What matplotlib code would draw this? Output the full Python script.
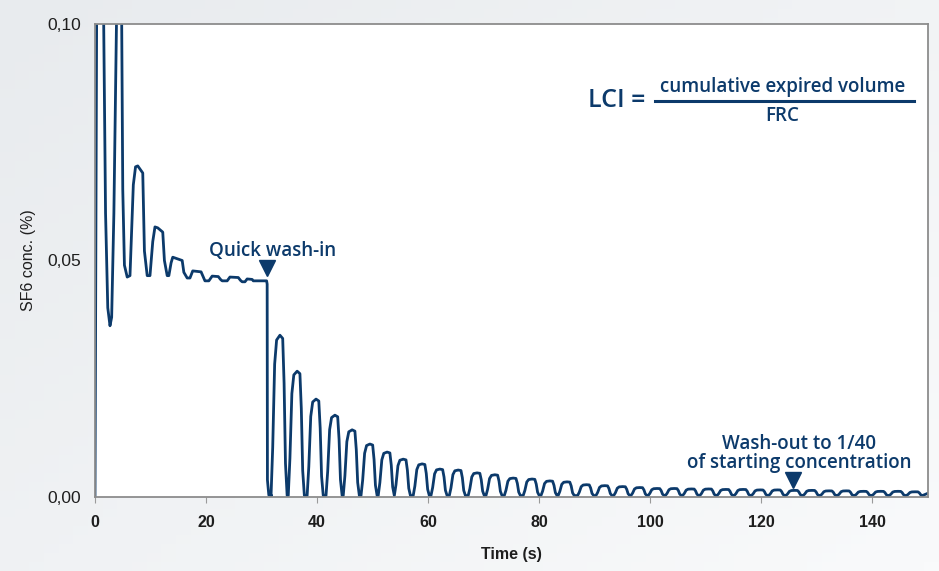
import numpy as np
import matplotlib
matplotlib.use("Agg")
import matplotlib.pyplot as plt

# ---------------- data ----------------
# wash-in phase: explicit trace knots (time s, SF6 %)
washin_t = [0.0, 0.35, 1.4, 1.9, 2.3, 2.7, 3.0, 3.4, 4.1, 4.7, 5.0, 5.3, 5.8, 6.3,
            6.9, 7.3, 7.7, 8.6, 8.9, 9.4, 9.9, 10.4, 10.8, 11.3, 12.2, 12.5, 13.0, 13.3,
            13.7, 14.0, 15.7, 16.0, 16.6, 17.1, 17.6, 19.1, 19.5, 19.8, 20.5, 20.8, 21.1,
            22.2, 22.6, 22.9, 23.8, 24.1, 24.3, 25.8, 26.2, 26.5, 27.0, 27.4, 28.3, 28.5,
            30.9, 31.0, 31.05, 31.3, 31.8]
washin_c = [0.0, 0.120, 0.120, 0.060, 0.040, 0.0362, 0.038, 0.060, 0.120, 0.120, 0.065, 0.049, 0.0465, 0.0468,
            0.066, 0.0698, 0.0700, 0.0685, 0.052, 0.0468, 0.0468, 0.054, 0.0571, 0.0569, 0.0560, 0.050, 0.0468, 0.0468,
            0.0495, 0.0507, 0.0500, 0.0475, 0.0463, 0.0463, 0.0478, 0.0476, 0.0465, 0.0457, 0.0457, 0.0462, 0.0467,
            0.0466, 0.0460, 0.0457, 0.0457, 0.0462, 0.0465, 0.0464, 0.0458, 0.0455, 0.0455, 0.0461, 0.0460, 0.0457,
            0.0457, 0.0450, 0.0036, 0.0004, 0.0003]

# wash-out phase: breath-by-breath end-tidal plateau (centre time s, SF6 %)
washout_peak_t = [33.3, 36.4, 39.8, 43.2, 46.3, 49.5, 52.6, 55.5, 58.9, 62.1, 65.4,
                  68.8, 72.0, 75.3, 78.7, 81.9, 85.0, 88.5, 91.8, 95.0, 98.1, 101.2,
                  104.3, 107.4, 110.5, 113.6, 116.7, 119.8, 122.9, 126.0, 129.1,
                  132.2, 135.3, 138.4, 141.5, 144.6, 147.7]
washout_peak_c = [0.0342, 0.0266, 0.0207, 0.0173, 0.0142, 0.0112, 0.0095, 0.0080, 0.0070, 0.0059, 0.0057,
                  0.0051, 0.0047, 0.0040, 0.0038, 0.0034, 0.0032, 0.0026, 0.0024, 0.0022, 0.0020, 0.0018,
                  0.0018, 0.0017, 0.0017, 0.0016, 0.0016, 0.0015, 0.0015, 0.0014, 0.0014,
                  0.0013, 0.0013, 0.0012, 0.0012, 0.0012, 0.0011]
washout_trough_c = 0.0003
# breath waveform shape (time offsets from plateau centre, fraction of plateau)
breath_dt = [-1.6, -1.3, -0.95, -0.6, 0.0, 0.5, 0.75, 1.0, 1.3]
breath_fr = [0.0, 0.3, 0.82, 0.97, 1.0, 0.98, 0.7, 0.2, 0.0]

x_ticks = [0, 20, 40, 60, 80, 100, 120, 140]
y_ticks = [0.0, 0.05, 0.10]
y_ticklabels = ["0,00", "0,05", "0,10"]

NAVY = "#0c3a6b"

# ---------------- build trace ----------------
t_all = list(washin_t)
c_all = list(washin_c)
for tc, v in zip(washout_peak_t, washout_peak_c):
    for dt, fr in zip(breath_dt, breath_fr):
        t_all.append(tc + dt)
        c_all.append(washout_trough_c + fr * (v - washout_trough_c))
t_all.append(150.0)
c_all.append(0.0008)

# ---------------- figure ----------------
fig = plt.figure(figsize=(9.39, 5.71), dpi=100)
bg = fig.add_axes([0, 0, 1, 1], zorder=-10)
gx, gy = np.meshgrid(np.linspace(0, 1, 64), np.linspace(0, 1, 64))
grad = 0.55 * gx + 0.45 * gy
bg.imshow(grad, cmap=matplotlib.colors.LinearSegmentedColormap.from_list(
    "g", ["#e8ebee", "#f9fafb"]), aspect="auto", extent=[0, 1, 0, 1], origin="upper")
bg.set_axis_off()

ax = fig.add_axes([95 / 939, 1 - 497 / 571, (928 - 95) / 939, (497 - 24) / 571])
ax.set_facecolor("white")
ax.plot(t_all, c_all, color=NAVY, lw=2.0, solid_joinstyle="round", solid_capstyle="round")
ax.set_xlim(0, 150)
ax.set_ylim(0, 0.10)

for s in ax.spines.values():
    s.set_color("#8c8c8c")
    s.set_linewidth(1.3)

ax.set_xticks(x_ticks)
ax.set_xticklabels([str(v) for v in x_ticks], fontsize=11.5, fontweight="bold",
                   color="#1e1e1e", family="Liberation Sans")
ax.set_yticks(y_ticks)
ax.set_yticklabels(y_ticklabels, fontsize=12.5, color="#1e1e1e", family="Liberation Sans")
ax.tick_params(axis="x", length=4, color="#9a9a9a", pad=9)
ax.tick_params(axis="y", length=0, pad=10)

ax.set_xlabel("Time (s)", fontsize=11.5, fontweight="bold", color="#1e1e1e",
              family="Liberation Sans", labelpad=12)
ax.set_ylabel("SF6 conc. (%)", fontsize=11.5, color="#1e1e1e", family="Liberation Sans",
              labelpad=8)

# annotations
afont = dict(family="Open Sans", fontweight="semibold", color=NAVY)
ax.text(32.0, 0.0520, "Quick wash-in", ha="center", va="center", fontsize=13.5, **afont)
ax.plot([31.0], [0.0485], marker="v", markersize=11, color=NAVY, clip_on=False)
ax.text(126.8, 0.0112, "Wash-out to 1/40", ha="center", va="center", fontsize=13.5, **afont)
ax.text(126.8, 0.0071, "of starting concentration", ha="center", va="center", fontsize=13.5, **afont)
ax.plot([125.7], [0.0036], marker="v", markersize=11, color=NAVY, clip_on=False)

# LCI formula
ax.text(88.8, 0.0838, "LCI =", ha="left", va="center", fontsize=18, **afont)
ax.text(123.8, 0.0866, "cumulative expired volume", ha="center", va="center", fontsize=13.5, **afont)
ax.plot([100.8, 147.5], [0.0837, 0.0837], color=NAVY, lw=2.2)
ax.text(123.8, 0.0805, "FRC", ha="center", va="center", fontsize=13.5, **afont)

fig.savefig("out.png", dpi=100)
